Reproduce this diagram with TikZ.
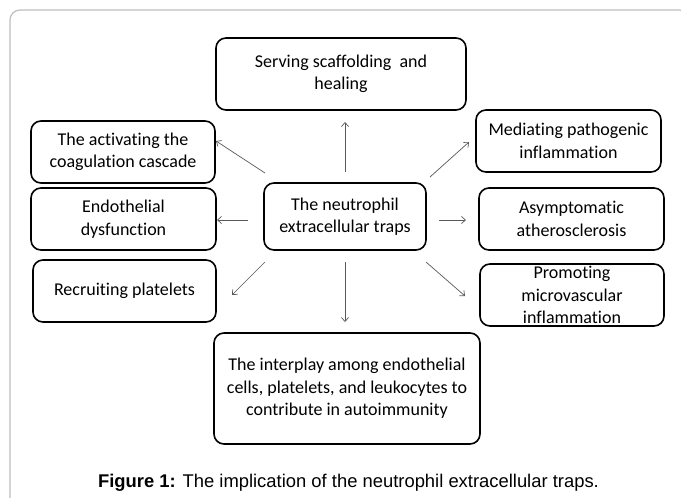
\documentclass[tikz,border=0pt]{standalone}
\usepackage{fontspec}
\setmainfont{Carlito}[Ligatures=NoCommon]
\newfontfamily\capfont{Liberation Sans}
\usetikzlibrary{arrows.meta}
\begin{document}
\begin{tikzpicture}[x=1pt,y=-1pt,
  box/.style={draw=black,line width=1.6pt,rounded corners=10pt,align=center,inner sep=0pt,
    font=\fontsize{18}{22.5}\selectfont},
  arr/.style={draw=black!65,line width=0.7pt,-{Straight Barb[length=4pt,width=7pt]}},
  frame/.style={draw=black!25,line width=1.2pt,rounded corners=10pt}]
\useasboundingbox (0,0) rectangle (681,498);
\fill[white] (0,0) rectangle (681,498);
\draw[frame] (10,515) -- (10,10) -- (689,10) -- (689,515);
% boxes
\node[box,minimum width=250pt,minimum height=72pt] (top) at (341,74) {Serving scaffolding \ and\\healing};
\node[box,minimum width=184pt,minimum height=62pt] (act) at (123,152) {The activating the\\coagulation cascade};
\node[box,minimum width=185pt,minimum height=62pt] (med) at (568.5,141) {Mediating pathogenic\\inflammation};
\node[box,minimum width=162pt,minimum height=67pt] (net) at (345,216.5) {The neutrophil\\extracellular traps};
\node[box,minimum width=185pt,minimum height=62pt] (endo) at (123.5,219) {Endothelial\\dysfunction};
\node[box,minimum width=185pt,minimum height=62pt] (asym) at (571.5,219) {Asymptomatic\\atherosclerosis};
\node[box,minimum width=183pt,minimum height=62pt] (recr) at (124.5,291) {Recruiting platelets};
\node[box,minimum width=184pt,minimum height=62pt] (prom) at (572,295) {Promoting\\microvascular\\inflammation};
\node[box,minimum width=266pt,minimum height=111pt] (bot) at (347,388.5) {The interplay among endothelial\\cells, platelets, and leukocytes to\\contribute in autoimmunity};
% arrow end points
\coordinate (uS) at (345,172);  \coordinate (uE) at (345,122);
\coordinate (ulS) at (265,173); \coordinate (ulE) at (216,141);
\coordinate (urS) at (430,177); \coordinate (urE) at (469,142);
\coordinate (lS) at (248,220);  \coordinate (lE) at (217,220);
\coordinate (rS) at (439,220);  \coordinate (rE) at (466,220);
\coordinate (dlS) at (265,262); \coordinate (dlE) at (232,295);
\coordinate (dS) at (345,262);  \coordinate (dE) at (345,322);
\coordinate (drS) at (426,262); \coordinate (drE) at (465,296);
\draw[arr] (uS) -- (uE);
\draw[arr] (ulS) -- (ulE);
\draw[arr] (urS) -- (urE);
\draw[arr] (lS) -- (lE);
\draw[arr] (rS) -- (rE);
\draw[arr] (dlS) -- (dlE);
\draw[arr] (dS) -- (dE);
\draw[arr] (drS) -- (drE);
% caption
\node[anchor=base,inner sep=0pt,font=\capfont\fontsize{18.4}{22}\selectfont] (cap) at (348.5,487)
  {\textbf{Figure 1:} The implication of the neutrophil extracellular traps.};
\end{tikzpicture}
\end{document}
